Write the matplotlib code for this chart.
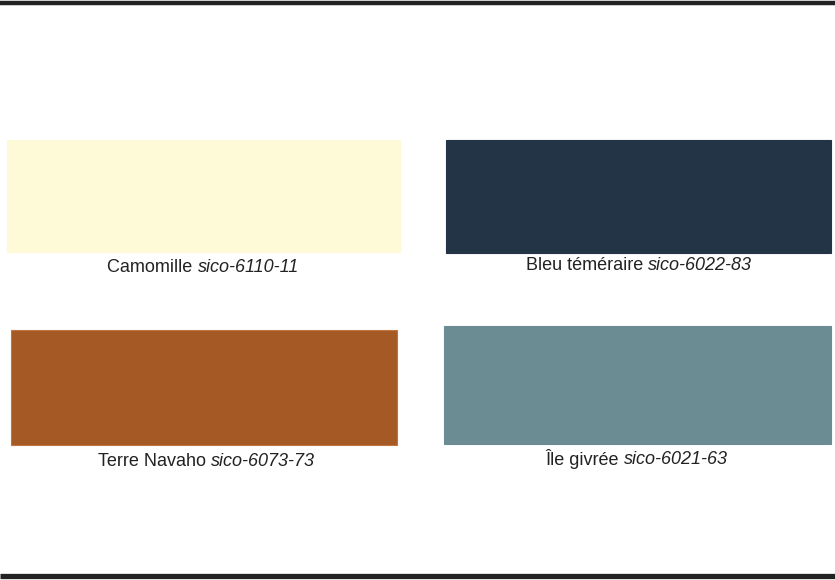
import matplotlib
matplotlib.use("Agg")
import matplotlib.pyplot as plt
from matplotlib.patches import Rectangle

## Paint chips shown on the card
names = ["Camomille", "Bleu téméraire", "Terre Navaho", "Île givrée"]
codes = ["sico-6110-11", "sico-6022-83", "sico-6073-73", "sico-6021-63"]
colors = ["#FEF9D6", "#223445", "#A55A26", "#6A8C92"]
edges = ["#FEF9D6", "#223445", "#C0743F", "#6A8C92"]

## Layout in pixels: (left, top, right, bottom) and label centre
boxes = [(7, 140, 400, 252), (446, 140, 831, 253),
         (11, 330, 397, 445), (444, 326, 831, 444)]
label_pos = [(203, 268), (639, 265), (206, 461), (637, 459)]

W, H = 835, 580
fig = plt.figure(figsize=(W / 100, H / 100), dpi=100)
ax = fig.add_axes([0, 0, 1, 1])
ax.set_xlim(0, W)
ax.set_ylim(H, 0)
ax.axis("off")

## Black rules top and bottom
ax.plot([0, W], [3, 3], color="#222222", lw=3.2, solid_capstyle="butt")
ax.plot([0, W], [575.5, 575.5], color="#222222", lw=3.8, solid_capstyle="butt")

font = ["Liberation Sans", "DejaVu Sans"]
fs = 13
name_txt = []
code_txt = []
for i in range(len(names)):
    l, t, r, b = boxes[i]
    ax.add_patch(Rectangle((l, t), r - l, b - t, facecolor=colors[i],
                           edgecolor=edges[i], lw=0.8))
    x, y = label_pos[i]
    name_txt.append(ax.text(x, y, names[i] + " ", ha="right", va="center",
                            fontsize=fs, family=font, color="#222222"))
    code_txt.append(ax.text(x, y, codes[i], ha="left", va="center",
                            fontsize=fs, family=font, style="italic",
                            color="#222222"))

## centre each label as a whole: shift name and code together
fig.canvas.draw()
r = fig.canvas.get_renderer()
for i in range(len(names)):
    wa = name_txt[i].get_window_extent(r).width
    wc = code_txt[i].get_window_extent(r).width
    shift = (wa - wc) / 2
    x, y = label_pos[i]
    name_txt[i].set_x(x + shift)
    code_txt[i].set_x(x + shift)

fig.savefig("out.png", dpi=100, facecolor="white")
